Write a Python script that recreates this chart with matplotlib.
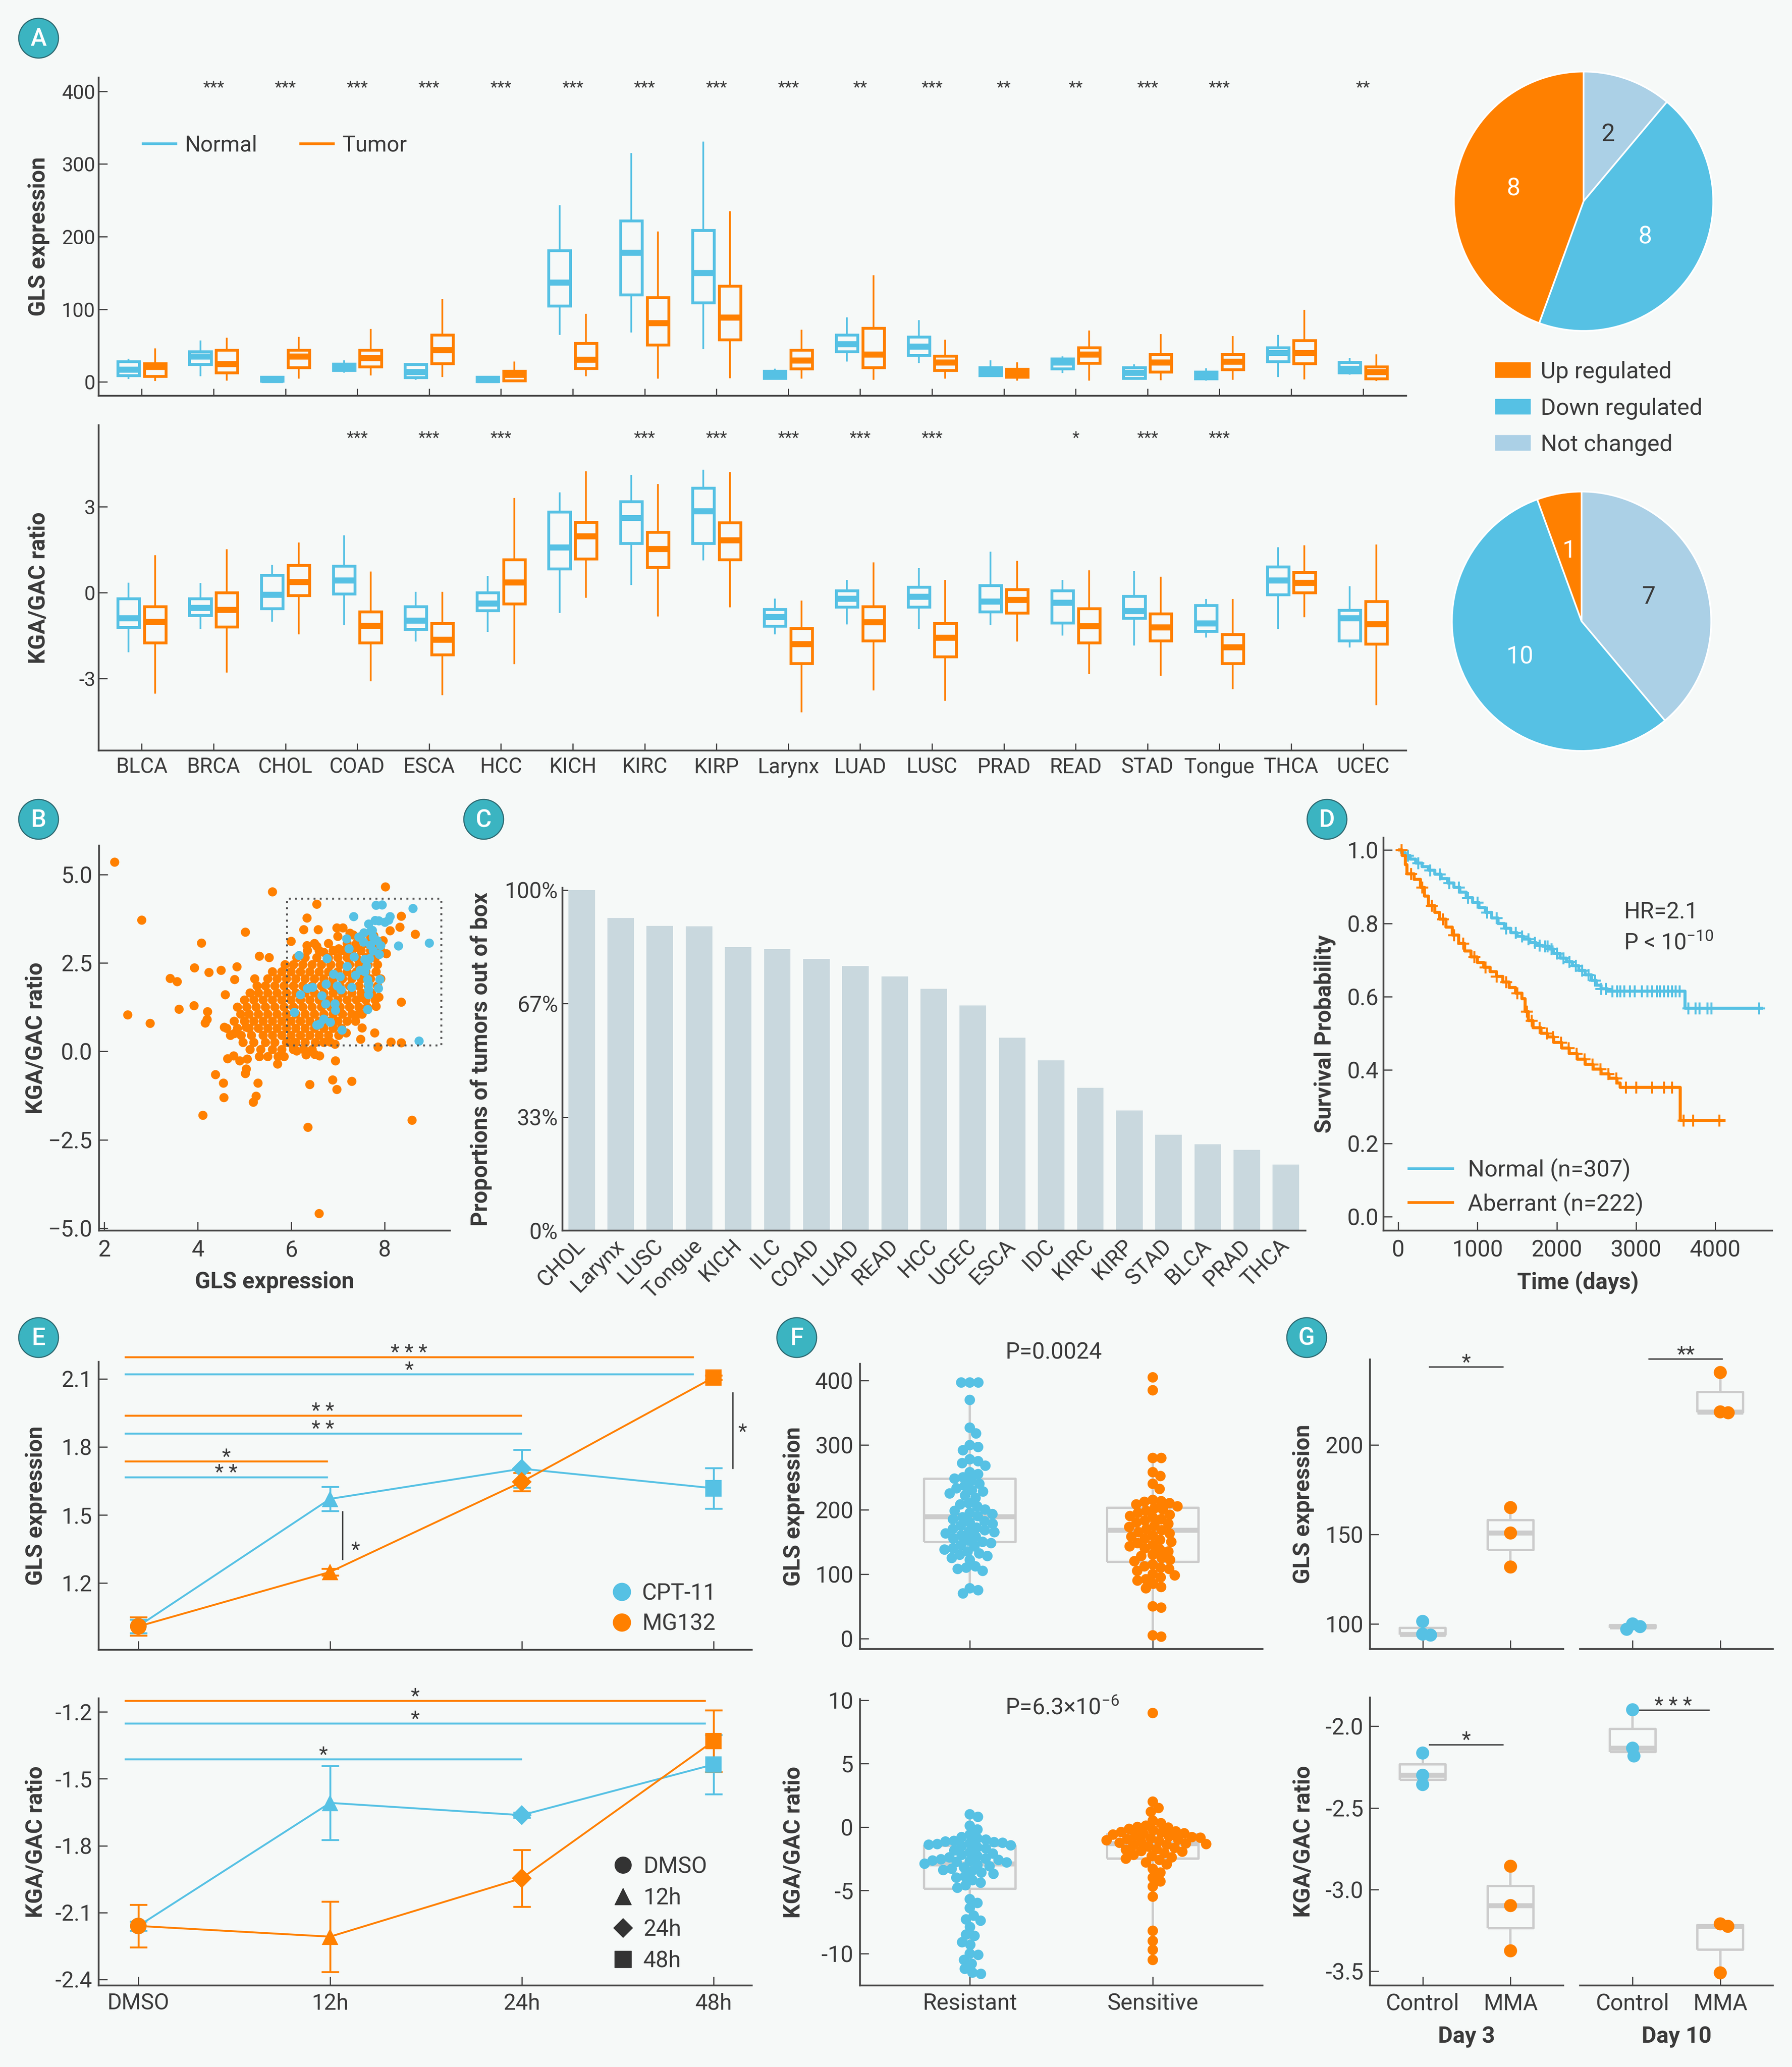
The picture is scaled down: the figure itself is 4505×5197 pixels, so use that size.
import numpy as np
import matplotlib
matplotlib.use('Agg')
import matplotlib.pyplot as plt
from matplotlib.patches import Patch, Circle, Rectangle
from matplotlib.lines import Line2D
from matplotlib.transforms import blended_transform_factory as btf

# ------------------------------------------------------------------ DATA
cancers = ['BLCA', 'BRCA', 'CHOL', 'COAD', 'ESCA', 'HCC', 'KICH', 'KIRC', 'KIRP', 'Larynx',
           'LUAD', 'LUSC', 'PRAD', 'READ', 'STAD', 'Tongue', 'THCA', 'UCEC']

gls_n_lo = [4, 8, 0, 13, 3, 0, 65, 68, 45, 5, 28, 26, 8, 12, 3, 2, 7, 10]
gls_n_q1 = [9, 24, 1, 16, 6, 0.5, 105, 120, 109, 5, 42, 37, 9, 18, 5, 4.5, 28, 13]
gls_n_med = [17, 35, 3, 21, 14, 3, 137, 178, 150, 10, 52, 49, 14, 27, 13, 9, 40, 18]
gls_n_q3 = [28, 42, 7, 25, 24, 7, 181, 222, 209, 15, 65, 62, 20, 32, 20, 14, 47, 27]
gls_n_hi = [32, 57, 8, 30, 25, 8, 243, 315, 331, 18, 89, 85, 30, 35, 24, 19, 65, 33]

gls_t_lo = [1, 2, 4.5, 9, 7, 0, 8, 4.5, 5, 4.5, 3, 4.5, 2, 2, 2.5, 3, 3.5, 1]
gls_t_q1 = [8, 13, 20, 21, 25.5, 2, 19, 51, 58, 18.5, 20, 16, 7, 26, 14, 17, 25.5, 4.5]
gls_t_med = [21, 25, 35, 33, 44, 10, 31, 81, 89, 30, 38, 27, 12, 38, 27, 28, 40, 14]
gls_t_q3 = [25.5, 44, 44, 44, 65, 15, 53, 116, 132, 44, 74, 36, 17.5, 47, 38, 38, 57, 21]
gls_t_hi = [46, 61, 62, 73, 114, 28, 94, 207, 235, 72, 147, 58, 27, 71, 66, 63, 99, 38]

kga_n_lo = [-2.08, -1.28, -1.01, -1.13, -1.7, -1.37, -0.7, 0.27, 1.13, -1.46, -1.11, -1.28, -1.13, -1.5, -1.85, -1.57, -1.28, -1.91]
kga_n_q1 = [-1.21, -0.79, -0.55, -0.04, -1.28, -0.62, 0.84, 1.73, 1.73, -1.17, -0.49, -0.49, -0.66, -1.05, -0.88, -1.35, -0.06, -1.68]
kga_n_med = [-0.89, -0.53, -0.06, 0.44, -0.97, -0.37, 1.58, 2.62, 2.85, -0.85, -0.2, -0.13, -0.3, -0.35, -0.64, -1.06, 0.44, -0.89]
kga_n_q3 = [-0.21, -0.2, 0.62, 0.93, -0.48, 0.0, 2.82, 3.19, 3.66, -0.58, 0.07, 0.2, 0.25, 0.07, -0.12, -0.44, 0.91, -0.61]
kga_n_hi = [0.35, 0.34, 0.98, 2.0, 0.03, 0.58, 3.5, 4.12, 4.3, -0.2, 0.45, 0.87, 1.43, 0.45, 0.75, -0.22, 1.58, 0.22]

kga_t_lo = [-3.52, -2.79, -1.45, -3.1, -3.58, -2.5, -0.18, -0.83, -0.51, -4.18, -3.41, -3.77, -1.7, -2.85, -2.9, -3.37, -0.86, -3.92]
kga_t_q1 = [-1.75, -1.19, -0.09, -1.75, -2.17, -0.39, 1.18, 0.89, 1.15, -2.47, -1.68, -2.23, -0.7, -1.75, -1.68, -2.47, 0.0, -1.79]
kga_t_med = [-1.01, -0.59, 0.38, -1.15, -1.63, 0.36, 1.98, 1.53, 1.84, -1.79, -1.02, -1.57, -0.24, -1.17, -1.2, -1.9, 0.35, -1.1]
kga_t_q3 = [-0.48, 0.0, 0.96, -0.66, -1.06, 1.15, 2.46, 2.11, 2.45, -1.24, -0.48, -1.06, 0.12, -0.55, -0.73, -1.46, 0.71, -0.3]
kga_t_hi = [1.31, 1.52, 1.76, 0.74, 0.03, 3.31, 4.24, 3.79, 4.21, -0.27, 1.06, 0.45, 1.11, 0.78, 0.56, -0.22, 1.65, 1.68]

gls_sig = ['', '***', '***', '***', '***', '***', '***', '***', '***', '***', '**', '***', '**', '**', '***', '***', '', '**']
kga_sig = ['', '', '', '***', '***', '***', '', '***', '***', '***', '***', '***', '', '*', '***', '***', '', '']

pie_cats = ['Not changed', 'Down regulated', 'Up regulated']
gls_pie = [2, 8, 8]
kga_pie = [7, 10, 1]

# panel B
b_out_x = [2.22, 2.80, 2.50, 2.98, 3.41, 3.56, 3.60, 3.93, 3.92, 4.08, 4.24, 4.21, 4.20, 4.16, 4.11, 4.38, 4.55,
           4.56, 4.59, 4.50, 4.57, 4.64, 4.77, 4.84, 4.79, 5.02, 4.90, 5.06, 5.02, 5.04, 5.29, 5.25, 5.19, 5.04,
           4.78, 5.32, 5.53, 5.60, 5.71, 6.36, 6.60, 6.40, 6.89, 6.98, 7.30, 6.95, 8.59, 8.02, 8.36, 8.66, 8.36,
           8.33, 8.12, 6.55, 6.34, 6.27, 6.58, 6.00, 7.86, 8.14, 8.36, 7.79, 7.49, 7.52, 7.88, 7.82, 8.04, 7.97,
           6.98, 7.11, 7.18, 6.94, 6.84, 6.61, 6.51, 6.32, 6.12, 6.02, 7.44, 7.52, 6.34, 6.55, 6.70, 7.02, 7.21,
           7.37, 7.77, 7.26, 7.33]
b_out_y = [5.35, 3.71, 1.03, 0.79, 2.06, 1.97, 1.19, 2.36, 1.29, 3.06, 2.23, 1.12, 0.90, 0.80, -1.81, -0.66, -0.90,
           -1.31, 1.60, 2.29, 0.68, -0.21, -0.13, 2.39, 2.03, 3.37, -0.27, -0.22, -0.63, -0.50, -0.90, -1.27, -1.44,
           0.68, 0.50, 2.69, 2.65, 4.51, -0.36, -2.15, -4.59, -0.94, -0.81, -1.08, -0.85, -0.27, -1.95, 4.65, 1.39,
           3.31, 3.82, 3.51, 3.41, 4.16, 3.77, 3.44, 3.44, 3.11, 0.12, 0.26, 0.24, 0.52, 0.34, 0.66, 1.53, 1.27,
           2.76, 3.13, 3.49, 3.49, 0.52, 0.20, 0.26, -0.13, -0.09, -0.10, 0.01, 0.20, 1.05, 1.52, 2.99, 2.97, 2.80,
           2.90, 2.83, 2.93, 3.27, 3.34, 3.29]
b_core_rows_y = [-0.15, 0.05, 0.25, 0.45, 0.65, 0.85, 1.05, 1.25, 1.45, 1.65, 1.85, 2.05, 2.25, 2.45, 2.65, 2.85, 3.05, 3.25]
b_core_rows_x = [
    [5.32, 5.5, 5.72, 5.85],
    [5.12, 5.35, 5.6, 5.8, 6.05, 6.27, 6.45],
    [4.97, 5.2, 5.45, 5.65, 5.9, 6.1, 6.3, 6.52, 6.7],
    [4.7, 4.93, 5.15, 5.4, 5.6, 5.8, 6.0, 6.2, 6.4, 6.6, 6.8, 7.02],
    [4.62, 4.85, 5.1, 5.3, 5.5, 5.7, 5.9, 6.1, 6.3, 6.5, 6.7, 6.9, 7.08],
    [4.78, 5.0, 5.2, 5.4, 5.6, 5.8, 6.0, 6.2, 6.4, 6.6, 6.8, 7.0, 7.2, 7.38],
    [4.92, 5.1, 5.3, 5.5, 5.7, 5.9, 6.1, 6.3, 6.5, 6.7, 6.9, 7.1, 7.3, 7.52],
    [4.85, 5.05, 5.25, 5.45, 5.65, 5.85, 6.05, 6.25, 6.45, 6.65, 6.85, 7.05, 7.25, 7.45, 7.63],
    [5.0, 5.2, 5.4, 5.6, 5.8, 6.0, 6.2, 6.4, 6.6, 6.8, 7.0, 7.2, 7.4, 7.6, 7.8],
    [5.12, 5.3, 5.5, 5.7, 5.9, 6.1, 6.3, 6.5, 6.7, 6.9, 7.1, 7.3, 7.5, 7.72],
    [5.27, 5.45, 5.65, 5.85, 6.05, 6.25, 6.45, 6.65, 6.85, 7.05, 7.25, 7.45, 7.65, 7.85],
    [5.22, 5.5, 5.7, 5.9, 6.1, 6.3, 6.5, 6.7, 6.9, 7.1, 7.3, 7.5, 7.7, 7.92],
    [5.6, 5.8, 6.0, 6.2, 6.4, 6.6, 6.8, 7.0, 7.2, 7.4, 7.6, 7.82],
    [5.87, 6.05, 6.25, 6.45, 6.65, 6.85, 7.05, 7.25, 7.45, 7.65, 7.85],
    [6.12, 6.3, 6.55, 6.8, 7.0, 7.2, 7.4, 7.6, 7.8],
    [6.35, 6.6, 6.9, 7.1, 7.3, 7.5, 7.7, 7.92],
    [6.5, 6.8, 7.2, 7.4, 7.6, 7.85],
    [7.0, 7.5, 7.7],
]
b_norm_x = [6.17, 6.77, 6.20, 6.07, 6.35, 6.46, 6.66, 6.75, 6.74, 6.91, 7.05, 6.99, 7.07, 6.94, 6.95, 6.84, 6.70,
            6.61, 6.55, 7.09, 7.30, 7.38, 7.48, 7.58, 7.64, 7.66, 7.64, 7.90, 7.87, 7.19, 7.24, 7.35, 7.34, 7.45,
            7.55, 7.66, 7.71, 7.76, 7.84, 7.92, 7.68, 7.76, 7.89, 7.82, 7.88, 8.01, 8.12, 8.09, 8.30, 8.61, 8.96,
            8.74, 7.74, 7.95, 7.58, 7.62, 7.20, 7.66, 7.66, 7.56, 7.70, 7.80]
b_norm_y = [2.71, 2.62, 1.60, 1.10, 1.78, 1.81, 1.57, 1.90, 1.34, 2.18, 2.11, 1.85, 1.74, 1.34, 1.16, 0.82, 0.91,
            0.77, 0.74, 0.60, 1.81, 2.15, 2.29, 2.25, 2.03, 1.74, 1.18, 2.03, 1.78, 3.18, 2.90, 2.67, 3.81, 3.23,
            3.09, 3.60, 3.40, 3.23, 3.13, 2.99, 2.62, 2.84, 2.74, 4.13, 3.69, 3.65, 3.81, 3.71, 2.98, 4.04, 3.06,
            0.29, 3.42, 4.14, 2.60, 2.40, 2.40, 1.90, 1.60, 3.35, 3.00, 3.70]
b_box_x = [5.91, 9.21]
b_box_y = [0.17, 4.32]

# panel C
c_labels = ['CHOL', 'Larynx', 'LUSC', 'Tongue', 'KICH', 'ILC', 'COAD', 'LUAD', 'READ', 'HCC', 'UCEC',
            'ESCA', 'IDC', 'KIRC', 'KIRP', 'STAD', 'BLCA', 'PRAD', 'THCA']
c_values = [1.0, 0.918, 0.895, 0.894, 0.833, 0.827, 0.798, 0.777, 0.746, 0.710, 0.661,
            0.567, 0.500, 0.419, 0.353, 0.282, 0.254, 0.237, 0.194]

# panel D (Kaplan-Meier)
km_norm_t = [0, 40, 90, 150, 220, 300, 380, 460, 540, 620, 700, 780, 860, 940, 1020, 1100, 1180, 1260, 1340,
             1420, 1500, 1580, 1660, 1740, 1820, 1900, 1960, 2040, 2120, 2200, 2280, 2360, 2440, 2500, 2560,
             2640, 3620, 4600]
km_norm_s = [1.000, 0.993, 0.985, 0.975, 0.965, 0.955, 0.945, 0.934, 0.922, 0.910, 0.898, 0.885, 0.870, 0.857,
             0.843, 0.830, 0.815, 0.800, 0.787, 0.775, 0.765, 0.757, 0.748, 0.740, 0.738, 0.730, 0.718, 0.705,
             0.695, 0.685, 0.672, 0.660, 0.645, 0.632, 0.622, 0.615, 0.569, 0.569]
km_norm_cens = [120, 250, 400, 520, 640, 760, 880, 1000, 1120, 1240, 1360, 1480, 1560, 1640, 1720, 1780, 1850,
                1880, 1930, 2000, 2080, 2160, 2240, 2320, 2400, 2480, 2560, 2620, 2700, 2760, 2800, 2850, 2920,
                2980, 3070, 3140, 3200, 3260, 3300, 3350, 3400, 3450, 3500, 3550, 3660, 3750, 3800, 3900, 3950, 4550]
km_ab_t = [0, 50, 90, 110, 200, 280, 330, 380, 460, 520, 600, 680, 760, 840, 920, 1000, 1080, 1160, 1240, 1320,
           1400, 1480, 1560, 1600, 1640, 1700, 1800, 1880, 1960, 2060, 2160, 2260, 2360, 2460, 2560, 2660, 2760,
           2800, 3560, 4130]
km_ab_s = [1.000, 0.985, 0.960, 0.935, 0.920, 0.898, 0.875, 0.848, 0.830, 0.812, 0.790, 0.768, 0.745, 0.725,
           0.708, 0.693, 0.680, 0.668, 0.655, 0.640, 0.625, 0.610, 0.595, 0.560, 0.535, 0.515, 0.500, 0.490,
           0.475, 0.460, 0.445, 0.430, 0.415, 0.402, 0.390, 0.378, 0.365, 0.353, 0.263, 0.263]
km_ab_cens = [40, 160, 300, 420, 560, 700, 820, 960, 1100, 1240, 1360, 1500, 1620, 1680, 1780, 1870, 1950, 2050,
              2150, 2250, 2350, 2450, 2550, 2650, 2750, 2870, 3000, 3200, 3350, 3450, 3600, 3720, 4050]

# panel E
e_labels = ['DMSO', '12h', '24h', '48h']
e_markers = ['o', '^', 'D', 's']
e_gls_cpt = [1.01, 1.571, 1.704, 1.618]
e_gls_cpt_err = [0.03, 0.054, 0.083, 0.089]
e_gls_mg = [1.009, 1.249, 1.646, 2.106]
e_gls_mg_err = [0.04, 0.015, 0.04, 0.01]
e_kga_cpt = [-2.16, -1.608, -1.663, -1.436]
e_kga_cpt_err = [0.02, 0.166, 0.012, 0.133]
e_kga_mg = [-2.16, -2.208, -1.946, -1.331]
e_kga_mg_err = [0.095, 0.158, 0.127, 0.138]
# significance bars: (label, series, y, x_start, x_end)
e_gls_sig = [('* * *', 'MG132', 2.196, -0.073, 2.898), ('*', 'CPT-11', 2.121, -0.073, 2.898),
             ('* *', 'MG132', 1.939, -0.073, 2.0), ('* *', 'CPT-11', 1.86, -0.073, 2.0),
             ('*', 'MG132', 1.736, -0.073, 0.988), ('* *', 'CPT-11', 1.667, -0.073, 0.988)]
e_kga_sig = [('*', 'MG132', -1.15, -0.073, 2.96), ('*', 'CPT-11', -1.252, -0.073, 2.96),
             ('*', 'CPT-11', -1.412, -0.073, 2.0)]

# panel F
f_groups = ['Resistant', 'Sensitive']
f_gls_res = [397, 397, 397, 370, 327, 318, 300, 297, 292, 278, 275, 272, 268, 258, 255, 250, 248, 245, 240, 237,
             233, 230, 228, 225, 222, 218, 210, 208, 205, 200, 198, 195, 193, 190, 188, 185, 182, 180, 178, 175,
             172, 170, 168, 166, 165, 163, 160, 158, 155, 152, 150, 148, 145, 143, 140, 138, 135, 132, 130, 128,
             125, 122, 112, 110, 108, 105, 78, 75, 70]
f_gls_sen = [405, 385, 280, 280, 258, 252, 240, 232, 215, 213, 212, 210, 208, 205, 202, 200, 198, 195,
             192, 190, 188, 185, 183, 180, 178, 175, 173, 170, 168, 165, 163, 160, 158, 155,
             153, 150, 148, 145, 143, 140, 138, 135, 130, 128, 125, 122, 120, 115, 112, 110, 108, 105,
             100, 98, 95, 92, 90, 85, 80, 78, 50, 48, 5, 3]
f_kga_res = [1.0, 0.8, 0.1, -0.2,
             -0.6, -0.8, -0.9, -1.0, -1.1, -1.15, -1.2, -1.25, -1.3, -1.35, -1.4, -1.45, -1.5, -1.6,
             -1.7, -1.85, -2.0, -2.1, -2.2,
             -2.3, -2.4, -2.5, -2.55, -2.6, -2.65, -2.7, -2.75, -2.8, -2.9, -3.0, -3.1,
             -3.2, -3.3, -3.4, -3.5, -3.6, -3.7,
             -3.9, -4.0, -4.2, -4.4, -4.6, -4.8,
             -5.7, -6.0, -6.4, -7.0, -7.3, -7.4, -7.9, -8.5, -8.6, -9.1, -9.3, -10.0, -10.1, -10.5, -10.8,
             -11.2, -11.5, -11.6]
f_kga_sen = [9.0, 2.0, 1.5, 1.2, 0.5, 0.3, 0.1, 0.0,
             -0.05, -0.15, -0.25, -0.35, -0.4, -0.45,
             -0.5, -0.55, -0.6, -0.7, -0.75, -0.8, -0.85, -0.9, -0.95,
             -1.0, -1.05, -1.1, -1.2, -1.25, -1.3, -1.35, -1.4, -1.45,
             -1.55, -1.65, -1.75, -1.8, -1.9, -1.95,
             -2.05, -2.2, -2.3, -2.4, -2.5,
             -2.6, -2.8, -2.95,
             -3.3, -3.6, -4.0, -4.3, -4.7, -5.5, -8.2, -9.0, -9.7, -10.5]
# box statistics: lo, q1, med, q3, hi
f_gls_box_res = [70, 150, 189, 248, 370]
f_gls_box_sen = [3, 119, 168, 203, 280]
f_kga_box_res = [-11.6, -4.87, -2.9, -1.5, 1.0]
f_kga_box_sen = [-10.5, -2.49, -1.3, -0.57, 2.0]

# panel G
g_groups = ['Control', 'MMA']
g_gls_d3_ctrl = [101.4, 94.3, 93.75]
g_gls_d3_mma = [165.0, 150.8, 131.8]
g_gls_d10_ctrl = [100.0, 98.5, 97.0]
g_gls_d10_mma = [240.5, 218.5, 218.0]
g_kga_d3_ctrl = [-2.164, -2.30, -2.357]
g_kga_d3_mma = [-2.857, -3.098, -3.375]
g_kga_d10_ctrl = [-1.899, -2.134, -2.182]
g_kga_d10_mma = [-3.21, -3.225, -3.51]

# ------------------------------------------------------------------ STYLE
W, H = 4505, 5197
DPI = 100
BG = '#f6f9f8'
BLUE = '#56c1e4'
ORANGE = '#ff8000'
LIGHT = '#abd0e6'
GRAY = '#cccccc'
TXT = '#3a3a3a'
SP = '#444444'
BARC = '#c9d8de'
SERIES = {'CPT-11': BLUE, 'MG132': ORANGE}

plt.rcParams.update({
    'font.family': ['Roboto', 'DejaVu Sans'],
    'axes.unicode_minus': False,
    'mathtext.fontset': 'custom',
    'mathtext.rm': 'Roboto', 'mathtext.it': 'Roboto:italic', 'mathtext.bf': 'Roboto:bold',
    'text.color': TXT, 'axes.labelcolor': TXT,
    'xtick.color': SP, 'ytick.color': SP,
    'xtick.labelcolor': TXT, 'ytick.labelcolor': TXT,
    'axes.edgecolor': SP,
    'lines.solid_capstyle': 'butt',
    'legend.borderaxespad': 0.0,
})

fig = plt.figure(figsize=(W / DPI, H / DPI), dpi=DPI, facecolor=BG)
ov = fig.add_axes([0, 0, 1, 1], zorder=20)
ov.set_xlim(0, W)
ov.set_ylim(H, 0)
ov.axis('off')
ov.patch.set_alpha(0)


def R(l, r, t, b):
    return [l / W, 1 - b / H, (r - l) / W, (b - t) / H]


def base(ax, xlen=16, ylen=16, xpad=12, ypad=9, fs=40):
    ax.set_facecolor('none')
    for s in ['top', 'right']:
        ax.spines[s].set_visible(False)
    for s in ['left', 'bottom']:
        ax.spines[s].set_linewidth(3.2)
        ax.spines[s].set_color(SP)
    ax.tick_params(axis='x', direction='in', length=xlen, width=2.2, pad=xpad, labelsize=fs)
    ax.tick_params(axis='y', direction='in', length=ylen, width=2.2, pad=ypad, labelsize=fs)


def ylab(ax, text, xpx, fs=41):
    ax.set_ylabel(text, fontsize=fs, fontweight='bold')
    ax.yaxis.set_label_coords(xpx, 0.5, transform=btf(ov.transData, ax.transAxes))


def xlab(ax, text, ypx, fs=41, x=0.5):
    ax.set_xlabel(text, fontsize=fs, fontweight='bold')
    ax.xaxis.set_label_coords(x, ypx, transform=btf(ax.transAxes, ov.transData))


def swarm(ax, xc, vals, diam):
    vals = np.asarray(vals, dtype=float)
    tr = ax.transData
    pts = tr.transform(np.column_stack([np.full(len(vals), xc), vals]))
    x0 = pts[0, 0]
    ys = pts[:, 1]
    order = np.argsort(-ys, kind='stable')
    placed = []
    xs = np.zeros(len(vals))
    for i in order:
        y = ys[i]
        near = [(px, py) for px, py in placed if abs(py - y) < diam]
        cands = [0.0]
        for px, py in near:
            dx = np.sqrt(diam ** 2 - (py - y) ** 2)
            cands += [px + dx, px - dx]
        cands = sorted(cands, key=abs)
        for c in cands:
            if all((c - px) ** 2 + (y - py) ** 2 >= diam ** 2 - 1e-6 for px, py in near):
                xs[i] = c
                placed.append((c, y))
                break
    return tr.inverted().transform(np.column_stack([x0 + xs, ys]))[:, 0]


def stats(lo, q1, med, q3, hi):
    return [dict(whislo=a, q1=b, med=c, q3=d, whishi=e, fliers=[]) for a, b, c, d, e in zip(lo, q1, med, q3, hi)]


# ------------------------------------------------------------------ PANEL A
pos = np.arange(len(cancers))


def draw_a(ax, sn, st, sig, sig_y):
    for s_, off, col in [(sn, -0.185, BLUE), (st, 0.185, ORANGE)]:
        ax.bxp(s_, positions=pos + off, widths=0.30, patch_artist=True, showcaps=False, showfliers=False,
               boxprops=dict(facecolor=BG, edgecolor=col, linewidth=5.2, joinstyle='miter'),
               medianprops=dict(color=col, linewidth=11, solid_capstyle='butt'),
               whiskerprops=dict(color=col, linewidth=3.2))
    for i, s in enumerate(sig):
        if s:
            ax.text(i, sig_y, s, ha='center', va='center', fontsize=30, color=TXT)
    ax.set_xlim(-0.6, 17.6)
    ax.set_xticks(pos)


axA1 = fig.add_axes(R(248, 3535, 195, 995))
base(axA1, xlen=13, ypad=6, fs=36)
draw_a(axA1, stats(gls_n_lo, gls_n_q1, gls_n_med, gls_n_q3, gls_n_hi),
       stats(gls_t_lo, gls_t_q1, gls_t_med, gls_t_q3, gls_t_hi), gls_sig, 405)
axA1.set_ylim(-19, 419)
axA1.set_yticks([0, 100, 200, 300, 400])
axA1.tick_params(axis='x', labelbottom=False)
ylab(axA1, 'GLS expression', 125)
axA1.legend(handles=[Line2D([], [], color=BLUE, lw=5), Line2D([], [], color=ORANGE, lw=5)],
            labels=['Normal', 'Tumor'], ncol=2, frameon=False, fontsize=40, handlelength=1.6,
            handletextpad=0.35, columnspacing=1.9, borderpad=0, loc='center left',
            bbox_to_anchor=(356, 365), bbox_transform=ov.transData)

axA2 = fig.add_axes(R(248, 3535, 1069, 1887))
base(axA2, xlen=13, ypad=6, fs=36)
draw_a(axA2, stats(kga_n_lo, kga_n_q1, kga_n_med, kga_n_q3, kga_n_hi),
       stats(kga_t_lo, kga_t_q1, kga_t_med, kga_t_q3, kga_t_hi), kga_sig, 5.39)
axA2.set_ylim(-5.51, 5.85)
axA2.set_yticks([-3, 0, 3])
axA2.set_xticklabels(cancers, fontsize=38)
ylab(axA2, 'KGA/GAC ratio', 125)

# pies
for vals, cx, cy in [(gls_pie, 3981, 506), (kga_pie, 3976, 1562)]:
    axp = fig.add_axes(R(cx - 326, cx + 326, cy - 326, cy + 326))
    wedges, texts = axp.pie(vals, colors=[LIGHT, BLUE, ORANGE], startangle=90, counterclock=False,
                            labels=[str(v) for v in vals], labeldistance=0.55,
                            wedgeprops=dict(edgecolor='white', linewidth=3))
    for t, c in zip(texts, [TXT, 'white', 'white']):
        t.set_color(c)
        t.set_fontsize(44)
        t.set_ha('center')
        t.set_va('center')
    axp.set_xlim(-1, 1)
    axp.set_ylim(-1, 1)
    axp.set_aspect('equal')

fig.legend(handles=[Patch(color=ORANGE), Patch(color=BLUE), Patch(color=LIGHT)],
           labels=['Up regulated', 'Down regulated', 'Not changed'], frameon=False, fontsize=42,
           handlelength=1.5, handleheight=0.62, handletextpad=0.45, labelspacing=0.62, borderpad=0,
           loc='center left', bbox_to_anchor=(3759, 1027), bbox_transform=ov.transData)

# ------------------------------------------------------------------ PANEL B
b_core_x = [x for row in b_core_rows_x for x in row]
b_core_y = [y for y, row in zip(b_core_rows_y, b_core_rows_x) for _ in row]
axB = fig.add_axes(R(249, 1131, 2126, 3094))
base(axB, xpad=16, ypad=12, fs=41)
axB.scatter(b_core_x + b_out_x, b_core_y + b_out_y, s=275, color=ORANGE, edgecolors='none', zorder=2)
axB.scatter(b_norm_x, b_norm_y, s=275, color=BLUE, edgecolors='none', zorder=3)
axB.add_patch(Rectangle((b_box_x[0], b_box_y[0]), b_box_x[1] - b_box_x[0], b_box_y[1] - b_box_y[0],
                        fill=False, ec='#555555', lw=3.5, ls=(0, (1, 2.2)), zorder=4))
axB.set_xlim(1.885, 9.40)
axB.set_ylim(-5.07, 5.82)
axB.set_xticks([2, 4, 6, 8])
axB.set_yticks([-5, -2.5, 0, 2.5, 5])
axB.set_yticklabels(['\u22125.0', '\u22122.5', '0.0', '2.5', '5.0'])
ylab(axB, 'KGA/GAC ratio', 118)
xlab(axB, 'GLS expression', 3196)

# ------------------------------------------------------------------ PANEL C
axC = fig.add_axes(R(1414, 3282, 2232, 3094))
base(axC, xlen=0, ylen=10, xpad=8, ypad=8, fs=40)
axC.bar(np.arange(len(c_labels)), c_values, width=0.68, color=BARC)
axC.set_xlim(-0.49, 18.5)
axC.set_ylim(0, 1.007)
axC.set_yticks([0, 1 / 3, 2 / 3, 1])
axC.set_yticklabels(['0%', '33%', '67%', '100%'])
axC.set_xticks(np.arange(len(c_labels)))
axC.set_xticklabels(c_labels, rotation=45, ha='right', va='center', rotation_mode='anchor', fontsize=40)
axC.tick_params(axis='x', pad=22)
ylab(axC, 'Proportions of tumors out of box', 1237)

# ------------------------------------------------------------------ PANEL D
axD = fig.add_axes(R(3478, 4455, 2106, 3094))
base(axD, xpad=16, ypad=9, fs=41)
for t, s, ct, col in [(km_norm_t, km_norm_s, km_norm_cens, BLUE), (km_ab_t, km_ab_s, km_ab_cens, ORANGE)]:
    axD.step(t, s, where='post', color=col, lw=5.5)
    idx = np.searchsorted(t, ct, side='right') - 1
    axD.plot(ct, np.asarray(s)[idx], ls='none', marker='+', ms=21, mew=3.6, color=col)
axD.set_xlim(-186, 4717)
axD.set_ylim(-0.038, 1.034)
axD.set_xticks([0, 1000, 2000, 3000, 4000])
axD.set_yticks([0, 0.2, 0.4, 0.6, 0.8, 1.0])
axD.set_yticklabels(['0.0', '0.2', '0.4', '0.6', '0.8', '1.0'])
axD.text(2845, 0.83, 'HR=2.1', fontsize=41, va='center')
axD.text(2845, 0.745, r'P < 10$^{\mathregular{-10}}$', fontsize=41, va='center')
axD.legend(handles=[Line2D([], [], color=BLUE, lw=5), Line2D([], [], color=ORANGE, lw=5)],
           labels=['Normal (n=307)', 'Aberrant (n=222)'], frameon=False, fontsize=42, handlelength=2.0,
           handletextpad=0.6, labelspacing=0.45, borderpad=0, loc='lower left',
           bbox_to_anchor=(3538, 3057), bbox_transform=ov.transData)
ylab(axD, 'Survival Probability', 3358)
xlab(axD, 'Time (days)', 3196)

# ------------------------------------------------------------------ PANEL E
ex = np.arange(len(e_labels))


def draw_e(ax, cpt, cpt_e, mg, mg_e, sig, star_fs=37):
    for y, e, col in [(cpt, cpt_e, BLUE), (mg, mg_e, ORANGE)]:
        ax.errorbar(ex, y, yerr=e, color=col, lw=3.4, elinewidth=3.4, capsize=16, capthick=3.4, zorder=3)
        for xi, yi, m in zip(ex, y, e_markers):
            ax.scatter([xi], [yi], marker=m, s=900 if m != 'D' else 650, color=col, edgecolors='none', zorder=4)
    for lab, ser, y, x0, x1 in sig:
        ax.plot([x0, x1], [y, y], color=SERIES[ser], lw=3.5, clip_on=False, zorder=2)
        ax.annotate(lab, xy=((x0 + x1) / 2, y), xytext=(0, -11), textcoords='offset points',
                    ha='center', va='bottom', fontsize=star_fs, annotation_clip=False)
    ax.set_xlim(-0.207, 3.2)
    ax.set_xticks(ex)


axE1 = fig.add_axes(R(248, 1890, 3424, 4148))
base(axE1, xpad=14, ypad=12, fs=40)
draw_e(axE1, e_gls_cpt, e_gls_cpt_err, e_gls_mg, e_gls_mg_err, e_gls_sig)
axE1.set_ylim(0.906, 2.175)
axE1.set_yticks([1.2, 1.5, 1.8, 2.1])
axE1.set_yticklabels(['1.2', '1.5', '1.8', '2.1'])
axE1.tick_params(axis='x', labelbottom=False)
for xv, y0, y1, sx, sy in [(1.064, 1.303, 1.517, 1.133, 1.30), (3.10, 1.704, 2.042, 3.15, 1.82)]:
    axE1.plot([xv, xv], [y0, y1], color=TXT, lw=2.5, clip_on=False)
    axE1.text(sx, sy, '*', fontsize=37, ha='center', va='bottom', clip_on=False)
axE1.legend(handles=[Line2D([], [], ls='none', marker='o', ms=32, color=BLUE),
                     Line2D([], [], ls='none', marker='o', ms=32, color=ORANGE)],
            labels=['CPT-11', 'MG132'], frameon=False, fontsize=41, handlelength=0.9, handletextpad=0.45,
            labelspacing=0.38, borderpad=0, loc='center left',
            bbox_to_anchor=(1537, 4045), bbox_transform=ov.transData)
ylab(axE1, 'GLS expression', 118)

axE2 = fig.add_axes(R(248, 1890, 4270, 4991.5))
base(axE2, xpad=14, ypad=12, fs=40)
draw_e(axE2, e_kga_cpt, e_kga_cpt_err, e_kga_mg, e_kga_mg_err, e_kga_sig)
axE2.set_ylim(-2.426, -1.139)
axE2.set_yticks([-2.4, -2.1, -1.8, -1.5, -1.2])
axE2.set_yticklabels(['-2.4', '-2.1', '-1.8', '-1.5', '-1.2'])
axE2.set_xticklabels(e_labels)
axE2.legend(handles=[Line2D([], [], ls='none', marker=m, ms=30 if m != 'D' else 24, color='#333333')
                     for m in e_markers],
            labels=e_labels, frameon=False, fontsize=41, handlelength=0.9, handletextpad=0.45,
            labelspacing=0.42, borderpad=0, loc='center left',
            bbox_to_anchor=(1540, 4812), bbox_transform=ov.transData)
ylab(axE2, 'KGA/GAC ratio', 118)

# ------------------------------------------------------------------ PANEL F


def draw_f(ax, res, sen, box_res, box_sen):
    st = [dict(whislo=b[0], q1=b[1], med=b[2], q3=b[3], whishi=b[4], fliers=[]) for b in (box_res, box_sen)]
    ax.bxp(st, positions=[0, 1], widths=0.5, showcaps=False, showfliers=False,
           boxprops=dict(color=GRAY, linewidth=4.2), medianprops=dict(color=GRAY, linewidth=9),
           whiskerprops=dict(color=GRAY, linewidth=4.2))
    for xc, vals, col in [(0, res, BLUE), (1, sen, ORANGE)]:
        xs = swarm(ax, xc, vals, 21.5)
        ax.scatter(xs, vals, s=360, color=col, edgecolors='none', zorder=3)
    ax.set_xticks([0, 1])


axF1 = fig.add_axes(R(2162, 3174, 3429, 4145.5))
base(axF1, xpad=14, ypad=12, fs=41)
axF1.set_xlim(-0.6, 1.6)
axF1.set_ylim(-15.8, 426)
draw_f(axF1, f_gls_res, f_gls_sen, f_gls_box_res, f_gls_box_sen)
axF1.set_yticks([0, 100, 200, 300, 400])
axF1.tick_params(axis='x', labelbottom=False)
axF1.text(0.193, 443, 'P=0.0024', fontsize=41, ha='left', va='center', clip_on=False)
ylab(axF1, 'GLS expression', 2023)

axF2 = fig.add_axes(R(2162, 3174, 4272, 4991.5))
base(axF2, xpad=14, ypad=12, fs=41)
axF2.set_xlim(-0.6, 1.6)
axF2.set_ylim(-12.5, 10.1)
draw_f(axF2, f_kga_res, f_kga_sen, f_kga_box_res, f_kga_box_sen)
axF2.set_yticks([-10, -5, 0, 5, 10])
axF2.set_xticklabels(f_groups)
axF2.text(0.193, 9.39, r'P=6.3×10$^{\mathregular{-6}}$', fontsize=41, ha='left', va='center', clip_on=False)
ylab(axF2, 'KGA/GAC ratio', 2023)

# ------------------------------------------------------------------ PANEL G


def draw_g(ax, ctrl, mma, sig, sig_y, sx0, sx1, left=True):
    base(ax, xpad=14, ypad=12, fs=41)
    ax.set_xlim(-0.6, 1.6)
    ax.boxplot([ctrl, mma], positions=[0, 1], widths=0.52, showfliers=False, showcaps=False,
               boxprops=dict(color=GRAY, linewidth=4.2), medianprops=dict(color=GRAY, linewidth=9),
               whiskerprops=dict(color=GRAY, linewidth=4.2))
    for xc, vals, col in [(0, ctrl, BLUE), (1, mma, ORANGE)]:
        xs = swarm(ax, xc, vals, 20)
        ax.scatter(xs, vals, s=560, color=col, edgecolors='none', zorder=3)
    ax.plot([sx0, sx1], [sig_y, sig_y], color=SP, lw=2.6, clip_on=False)
    ax.annotate(sig, xy=((sx0 + sx1) / 2, sig_y), xytext=(0, -11), textcoords='offset points',
                ha='center', va='bottom', fontsize=38, annotation_clip=False)
    ax.set_xticks([0, 1])
    if not left:
        ax.spines['left'].set_visible(False)
        ax.tick_params(axis='y', left=False, labelleft=False)


axG1 = fig.add_axes(R(3444, 3930, 3418, 4145.5))
axG1.set_ylim(86.1, 247.8)
draw_g(axG1, g_gls_d3_ctrl, g_gls_d3_mma, '*', 243.5, 0.07, 0.92)
axG1.set_yticks([100, 150, 200])
axG1.tick_params(axis='x', labelbottom=False)
ylab(axG1, 'GLS expression', 3304)

axG2 = fig.add_axes(R(3972, 4457, 3418, 4145.5))
axG2.set_ylim(86.1, 247.8)
draw_g(axG2, g_gls_d10_ctrl, g_gls_d10_mma, '**', 248, 0.18, 1.03, left=False)
axG2.tick_params(axis='x', labelbottom=False)

axG3 = fig.add_axes(R(3444, 3930, 4268, 4991.5))
axG3.set_ylim(-3.586, -1.824)
draw_g(axG3, g_kga_d3_ctrl, g_kga_d3_mma, '*', -2.113, 0.07, 0.92)
axG3.set_yticks([-3.5, -3.0, -2.5, -2.0])
axG3.set_yticklabels(['-3.5', '-3.0', '-2.5', '-2.0'])
axG3.set_xticklabels(g_groups)
ylab(axG3, 'KGA/GAC ratio', 3304)
xlab(axG3, 'Day 3', 5094)

axG4 = fig.add_axes(R(3972, 4457, 4268, 4991.5))
axG4.set_ylim(-3.586, -1.824)
draw_g(axG4, g_kga_d10_ctrl, g_kga_d10_mma, '* * *', -1.902, 0.045, 0.88, left=False)
axG4.set_xticklabels(g_groups)
xlab(axG4, 'Day 10', 5094)

# ------------------------------------------------------------------ panel letters
for letter, cx, cy in [('A', 97, 96), ('B', 97, 2060), ('C', 1216, 2060), ('D', 3336, 2060),
                       ('E', 97, 3363), ('F', 2003, 3363), ('G', 3285, 3363)]:
    ov.add_patch(Circle((cx, cy), 50, facecolor='#3bb4c1', edgecolor='#2c6870', lw=2))
    ov.text(cx, cy + 2, letter, color='white', fontsize=44, ha='center', va='center', fontweight='medium')

fig.savefig('out.png', dpi=DPI, facecolor=BG)
